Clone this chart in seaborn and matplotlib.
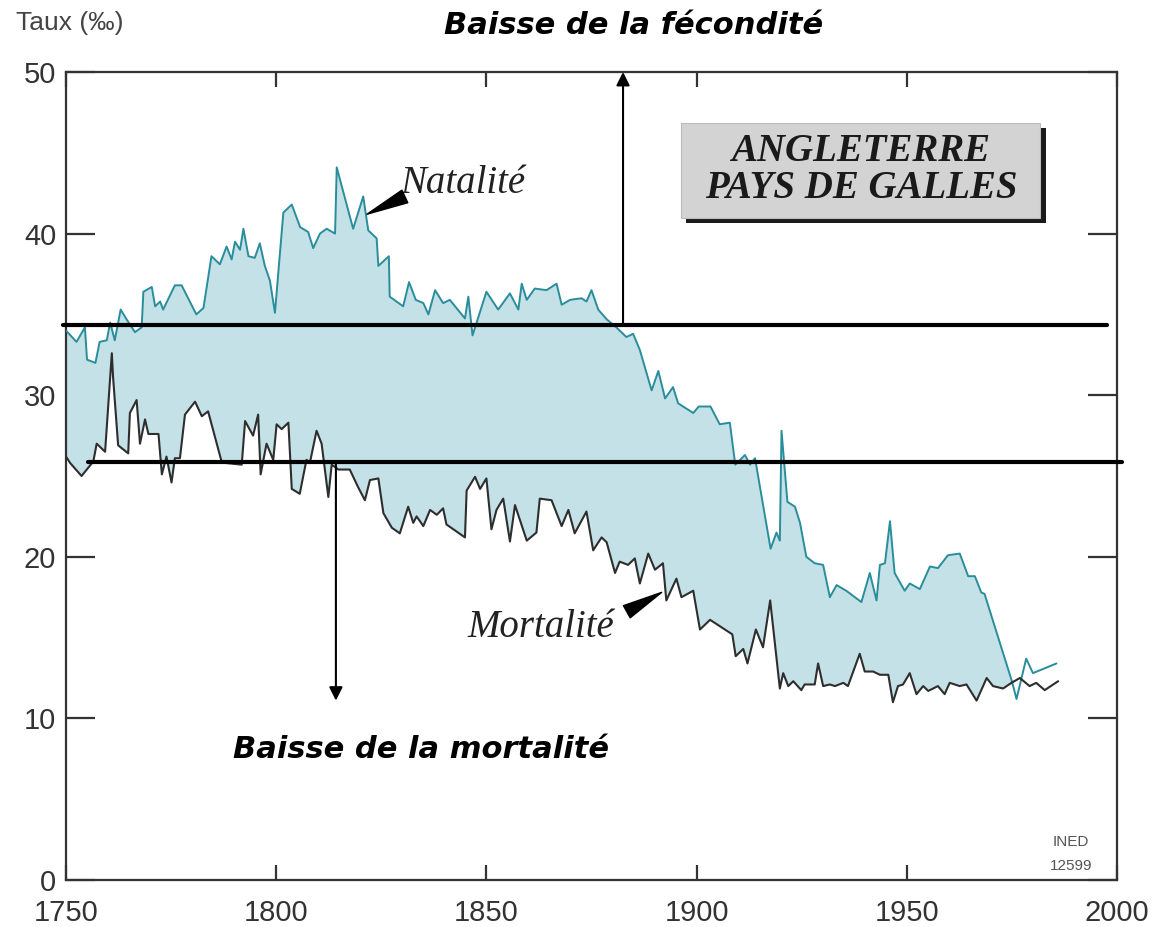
import numpy as np
import pandas as pd
import matplotlib
matplotlib.use("Agg")
import matplotlib.pyplot as plt
from matplotlib.patches import Rectangle
import seaborn as sns

# ---------------- data ----------------
birth_years = [1750, 1752.5, 1754.5, 1755, 1757, 1758, 1759.7, 1760.5, 1761.6, 1763, 1764.4, 1766.4,
               1768, 1768.4, 1770.4, 1771.2, 1772.4, 1773.1, 1775.9, 1777.5, 1781, 1782.7, 1784.6,
               1786.6, 1788.2, 1789.4, 1790.2, 1791.4, 1792.2, 1793.4, 1794.9, 1796.1, 1797.3, 1798.5,
               1799.7, 1801.7, 1803.7, 1805.7, 1807.6, 1808.8, 1810.4, 1812, 1814, 1814.4, 1818.3,
               1820.7, 1821.9, 1823.9, 1824.3, 1826.8, 1827.0, 1830.2, 1831.6, 1833.2, 1835, 1836.2,
               1837.8, 1839.7, 1841.3, 1844.9, 1845.7, 1846.7, 1850, 1852.8, 1855.6, 1857.6, 1858.4,
               1859.6, 1861.5, 1864.3, 1866.7, 1867.9, 1869.9, 1872.6, 1873.8, 1875, 1876.6, 1878.6,
               1880.9, 1883.3, 1884.9, 1886.5, 1889.3, 1890.9, 1892.5, 1894.4, 1895.6, 1899.2, 1900.5,
               1903.3, 1905.5, 1907.9, 1909.2, 1911.5, 1912.7, 1913.9, 1917.6, 1919, 1919.8, 1920.2,
               1921.6, 1923.4, 1924.6, 1926.1, 1928.1, 1930.1, 1931.7, 1933.3, 1935.6, 1939.2, 1941.2,
               1942.8, 1943.6, 1944.8, 1946, 1947.1, 1949.5, 1950.7, 1953.1, 1955.5, 1957.4, 1959.8,
               1962.6, 1964.6, 1966.2, 1967.7, 1968.5, 1975.0, 1976.1, 1978.4, 1980, 1985.6]
birth_rates = [34.0, 33.3, 34.2, 32.2, 32.0, 33.3, 33.4, 34.5, 33.4, 35.3, 34.7, 33.9,
               34.2, 36.4, 36.7, 35.5, 35.8, 35.3, 36.8, 36.8, 35.0, 35.4, 38.6,
               38.1, 39.2, 38.4, 39.5, 39.0, 40.3, 38.6, 38.5, 39.4, 38.0, 37.1,
               35.1, 41.3, 41.8, 40.4, 40.1, 39.1, 40.0, 40.3, 40.0, 44.1, 40.3,
               42.3, 40.2, 39.7, 38.0, 38.6, 36.1, 35.5, 37.0, 35.9, 35.7, 35.0,
               36.5, 35.7, 35.9, 34.75, 36.1, 33.7, 36.4, 35.3, 36.3, 35.3, 36.9,
               35.9, 36.6, 36.5, 36.9, 35.6, 35.9, 36.0, 35.8, 36.5, 35.3, 34.7,
               34.2, 33.6, 33.8, 32.8, 30.3, 31.5, 29.8, 30.5, 29.5, 28.9, 29.3,
               29.3, 28.2, 28.3, 25.7, 26.3, 25.7, 26.1, 20.5, 21.5, 21.0, 27.8,
               23.4, 23.1, 22.1, 20.0, 19.6, 19.5, 17.5, 18.25, 17.9, 17.2, 19.0,
               17.3, 19.5, 19.6, 22.2, 19.0, 17.9, 18.35, 18.0, 19.4, 19.3, 20.1,
               20.2, 18.8, 18.8, 17.8, 17.7, 12.3, 11.2, 13.7, 12.8, 13.4]

death_years = [1750, 1751, 1753.7, 1756.5, 1757.3, 1759.3, 1760.9, 1761.2, 1762.4, 1764.8, 1765.2,
               1766.8, 1767.6, 1768.8, 1769.6, 1772, 1772.8, 1773.9, 1775.1, 1775.9, 1777.1, 1778.3,
               1780.7, 1782.3, 1783.8, 1787, 1788.2, 1791.8, 1792.6, 1794.5, 1795.7, 1796.3, 1797.7,
               1799.3, 1800.1, 1801.3, 1802.9, 1803.7, 1805.6, 1807.2, 1808, 1809.6, 1810.8, 1812.4,
               1813.2, 1814.8, 1817.5, 1819.5, 1821.1, 1822.3, 1824.3, 1825.5, 1827.5, 1829.4, 1831.4,
               1832.6, 1833.4, 1835, 1836.6, 1838.2, 1839.7, 1840.5, 1844.9, 1845.3, 1847.3, 1848.5,
               1850, 1851.2, 1852.4, 1854, 1855.6, 1856.8, 1859.6, 1861.9, 1862.7, 1865.5, 1867.9,
               1869.5, 1871, 1873.8, 1875.4, 1877.4, 1878.6, 1880.6, 1881.7, 1883.7, 1885.3, 1886.5,
               1888.5, 1890.1, 1892, 1892.8, 1895.2, 1896.4, 1899.2, 1900.8, 1903.2, 1908.5, 1909.3,
               1911.1, 1912.1, 1914.1, 1915.8, 1917.5, 1919.8, 1920.6, 1921.8, 1923, 1924.9, 1925.7,
               1928.1, 1928.9, 1930.1, 1931.7, 1932.9, 1934.9, 1936, 1938.8, 1940, 1942, 1943.6,
               1945.6, 1946.7, 1947.9, 1949.1, 1950.7, 1952.3, 1953.9, 1955.1, 1957.4, 1959, 1960.2,
               1962.6, 1964.2, 1966.6, 1969, 1970.5, 1972.9, 1974.9, 1976.9, 1979.2, 1980.8, 1982.8,
               1986]
death_rates = [26.2, 25.8, 25.0, 25.9, 27.0, 26.5, 32.6, 31.1, 26.9, 26.4, 28.9,
               29.7, 27.0, 28.5, 27.6, 27.6, 25.1, 26.2, 24.6, 26.1, 26.1, 28.8,
               29.6, 28.7, 29.0, 25.9, 25.8, 25.7, 28.4, 27.5, 28.8, 25.1, 27.0,
               26.0, 28.2, 27.9, 28.3, 24.2, 23.9, 26.0, 25.8, 27.8, 27.0, 23.7,
               25.7, 25.4, 25.4, 24.3, 23.5, 24.75, 24.85, 22.7, 21.8, 21.45, 23.1,
               22.1, 22.5, 21.9, 22.9, 22.6, 23.0, 22.0, 21.2, 24.1, 24.95, 24.2,
               24.85, 21.7, 22.9, 23.6, 20.95, 23.2, 21.0, 21.5, 23.6, 23.5, 21.9,
               22.9, 21.45, 22.8, 20.4, 21.2, 20.9, 19.0, 19.7, 19.5, 19.9, 18.35,
               20.2, 19.2, 19.6, 17.3, 18.65, 17.5, 17.9, 15.5, 16.1, 15.2, 13.85,
               14.3, 13.4, 15.5, 14.4, 17.3, 11.85, 12.8, 12.0, 12.3, 11.75, 12.1,
               12.1, 13.4, 12.0, 12.1, 12.0, 12.2, 12.0, 14.0, 12.9, 12.9, 12.7,
               12.7, 11.0, 12.0, 12.1, 12.8, 11.5, 12.0, 11.7, 12.0, 11.5, 12.2,
               12.0, 12.1, 11.1, 12.5, 12.0, 11.85, 12.2, 12.5, 12.0, 12.2, 11.75,
               12.3]

x_ticks = [1750, 1800, 1850, 1900, 1950, 2000]
y_ticks = [0, 10, 20, 30, 40, 50]

# guide lines / arrows (data units)
fert_level = 34.35
mort_level = 25.85
fert_arrow_year = 1882.5
mort_arrow_year = 1814.2
mort_arrow_end = 11.1
fill_end_year = 1975.5

birth = pd.DataFrame({"year": birth_years, "rate": birth_rates})
death = pd.DataFrame({"year": death_years, "rate": death_rates})

# ---------------- figure ----------------
sns.set_style("ticks")
plt.rcParams["font.family"] = ["Liberation Sans", "DejaVu Sans"]

W, H = 1156, 927
fig = plt.figure(figsize=(W / 100, H / 100), dpi=100)
ax = fig.add_axes([66 / W, 1 - 880 / H, (1117 - 66) / W, (880 - 72) / H])

fill_col = "#c3e1e6"
birth_col = "#2a8d9c"
death_col = "#2e2e2e"

b_in = birth[birth.year <= fill_end_year]
d_in = death[death.year <= fill_end_year]
poly_x = np.concatenate([b_in.year.values, d_in.year.values[::-1]])
poly_y = np.concatenate([b_in.rate.values, d_in.rate.values[::-1]])
ax.fill(poly_x, poly_y, color=fill_col, lw=0, zorder=1)

sns.lineplot(data=birth, x="year", y="rate", color=birth_col, lw=1.4, ax=ax, zorder=3, sort=False)
sns.lineplot(data=death, x="year", y="rate", color=death_col, lw=1.5, ax=ax, zorder=3, sort=False)

ax.set_xlim(1750, 2000)
ax.set_ylim(0, 50)
ax.set_xticks(x_ticks)
ax.set_yticks(y_ticks)
ax.set_xlabel("")
ax.set_ylabel("")
for s in ax.spines.values():
    s.set_visible(True)
    s.set_linewidth(1.6)
    s.set_color("#333333")
ax.tick_params(axis="x", direction="in", length=11, width=1.6, color="#333333",
               top=True, labelsize=21, labelcolor="#333333", pad=14)
ax.tick_params(axis="y", direction="in", length=21, width=1.6, color="#333333",
               right=True, labelsize=21, labelcolor="#333333", pad=7)

# horizontal guide lines
ax.plot([1749.3, 1997.6], [fert_level, fert_level], color="black", lw=3, clip_on=False, zorder=5)
ax.plot([1755.2, 2001.2], [mort_level, mort_level], color="black", lw=3, clip_on=False, zorder=5)

# vertical arrows
ax.annotate("", xy=(fert_arrow_year, 50), xytext=(fert_arrow_year, fert_level),
            arrowprops=dict(arrowstyle="-|>", color="black", lw=1.5, mutation_scale=20,
                            shrinkA=0, shrinkB=0), zorder=6, annotation_clip=False)
ax.annotate("", xy=(mort_arrow_year, mort_arrow_end), xytext=(mort_arrow_year, mort_level),
            arrowprops=dict(arrowstyle="-|>", color="black", lw=1.5, mutation_scale=20,
                            shrinkA=0, shrinkB=0), zorder=6)

# series labels with wedge pointers
ax.text(1829.6, 43.1, "Natalité", family="Liberation Serif", style="italic",
        fontsize=28, color="#222222", va="center", ha="left")
ax.annotate("", xy=(1821.6, 41.2), xytext=(1830.6, 42.3),
            arrowprops=dict(arrowstyle="wedge,tail_width=1.0", color="black", shrinkA=0, shrinkB=0))
ax.text(1845.4, 15.65, "Mortalité", family="Liberation Serif", style="italic",
        fontsize=28, color="#222222", va="center", ha="left")
ax.annotate("", xy=(1891.7, 17.8), xytext=(1883.4, 16.6),
            arrowprops=dict(arrowstyle="wedge,tail_width=1.0", color="black", shrinkA=0, shrinkB=0))

# country box with shadow
def fx(px):
    return px / W

def fy(py):
    return 1 - py / H

fig.patches.append(Rectangle((fx(686), fy(223)), fx(1046) - fx(686), fy(128) - fy(223),
                             transform=fig.transFigure, facecolor="#1a1a1a", edgecolor="none", zorder=7))
fig.patches.append(Rectangle((fx(681), fy(218)), fx(1040) - fx(681), fy(123) - fy(218),
                             transform=fig.transFigure, facecolor="#d3d3d3", edgecolor="#bbbbbb",
                             lw=0.8, zorder=8))
fig.text(fx(861), fy(170), "ANGLETERRE\nPAYS DE GALLES", family="Liberation Serif",
         style="italic", weight="semibold", fontsize=28, color="#1a1a1a", ha="center", va="center",
         linespacing=1.0, zorder=9)

# titles and other text
fig.text(fx(634), fy(25), "Baisse de la fécondité", family="DejaVu Sans", weight="bold",
         style="italic", fontsize=22, color="black", ha="center", va="center")
fig.text(fx(421), fy(750), "Baisse de la mortalité", family="DejaVu Sans", weight="bold",
         style="italic", fontsize=22, color="black", ha="center", va="center")
fig.text(fx(16), fy(23), "Taux (‰)", fontsize=19, color="#444444", ha="left", va="center")
fig.text(fx(1071), fy(842), "INED", fontsize=11, color="#555555", ha="center", va="center")
fig.text(fx(1071), fy(866), "12599", fontsize=11, color="#555555", ha="center", va="center")

fig.savefig("out.png", dpi=100)
